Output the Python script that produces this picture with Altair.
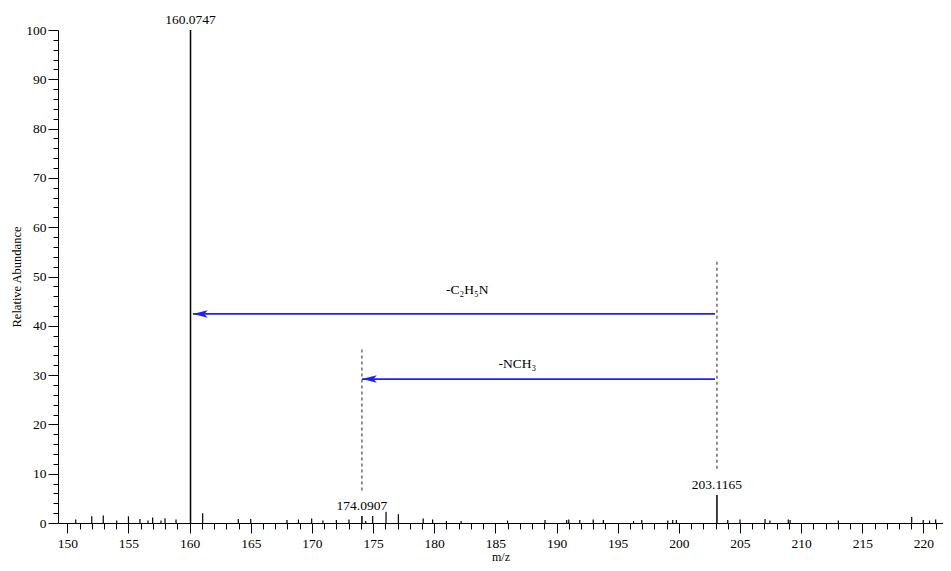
import altair as alt
import pandas as pd

# ---- data ----
peak_mz = [150.69, 152.0, 152.94, 154.04, 155.0, 155.94, 156.6, 156.98, 157.66, 157.99,
           158.89, 161.07, 163.98, 165.0, 167.96, 168.9, 169.98, 170.9, 172.0, 173.03,
           174.4, 174.97, 176.06, 177.07, 179.1, 179.87, 181.0, 182.2, 186.0, 189.06,
           190.83, 191.0, 191.9, 193.0, 193.83, 196.3, 196.97, 199.1, 199.5, 199.8,
           204.0, 205.0, 207.05, 207.45, 208.95, 209.1, 213.04, 219.04, 219.98, 220.5, 221.0]
peak_int = [0.7, 1.35, 1.5, 0.5, 1.35, 0.8, 0.5, 1.1, 0.5, 0.95,
            0.7, 2.0, 0.8, 0.8, 0.6, 0.7, 0.9, 0.5, 0.6, 0.7,
            0.4, 1.4, 2.3, 1.8, 0.9, 0.7, 0.4, 0.4, 0.5, 0.6,
            0.6, 0.7, 0.6, 0.7, 0.6, 0.4, 0.6, 0.5, 0.6, 0.6,
            0.6, 0.7, 0.8, 0.5, 0.7, 0.6, 0.5, 1.2, 0.6, 0.5, 0.7]

label_mz = [160.0747, 174.0907, 203.1165]
label_int = [100.0, 1.4, 5.7]
label_txt = ["160.0747", "174.0907", "203.1165"]

dash_mz = [203.1165, 174.0907]
dash_top = [53.0, 35.2]
dash_bottom = [10.7, 6.1]

arrow_start = [202.96, 202.96]
arrow_tip = [160.27, 174.1]
arrow_y = [42.4, 29.2]

loss_txt = ["-C\u2082H\u2085N", "-NCH\u2083"]
loss_mz = [182.7, 186.8]
loss_y = [47.3, 32.3]

x_ticks = list(range(150, 222))
y_ticks = list(range(0, 101, 2))

FONT = "Liberation Serif"

peaks = pd.DataFrame({"mz": peak_mz, "inten": peak_int})
labeled = pd.DataFrame({"mz": label_mz, "inten": label_int, "txt": label_txt})
dashes = pd.DataFrame({"mz": dash_mz, "top": dash_top, "bottom": dash_bottom})
arrows = pd.DataFrame({"start": arrow_start, "tip": arrow_tip, "y": arrow_y})
losses = pd.DataFrame({"txt": loss_txt, "mz": loss_mz, "y": loss_y})

xscale = alt.Scale(domain=[149.24, 221.6], nice=False, zero=False)
yscale = alt.Scale(domain=[0, 100], nice=False)

xaxis = alt.Axis(
    values=x_ticks, tickCount=500, title="m/z", format="d",
    labelExpr="datum.value % 5 === 0 ? datum.label : ''",
    tickSize={"condition": {"test": "datum.value % 5 === 0", "value": 10}, "value": 6},
    labelPadding=3, labelFontSize=13.5, labelFont=FONT, labelColor="black",
    titleFont=FONT, titleFontSize=12, titleFontWeight="normal", titleColor="black",
    titleY=40, titleBaseline="bottom", labelFlush=False, labelOverlap=False,
    domainColor="black", tickColor="black", grid=False,
)
yaxis = alt.Axis(
    values=y_ticks, tickCount=500, title="Relative Abundance", format="d",
    labelExpr="datum.value % 10 === 0 ? datum.label : ''",
    tickSize={"condition": {"test": "datum.value % 10 === 0", "value": 10}, "value": 5},
    labelPadding=2, labelFontSize=13.5, labelFont=FONT, labelColor="black",
    titleFont=FONT, titleFontSize=12.5, titleFontWeight="normal", titleColor="black",
    titlePadding=2, labelFlush=False, labelOverlap=False,
    domainColor="black", tickColor="black", grid=False,
)

base_peaks = alt.Chart(peaks).transform_calculate(base="0").mark_rule(
    color="black", strokeWidth=1.2
).encode(
    x=alt.X("mz:Q", scale=xscale, axis=xaxis),
    y=alt.Y("inten:Q", scale=yscale, axis=yaxis),
    y2="base:Q",
)

main_peaks = alt.Chart(labeled).transform_calculate(base="0").mark_rule(
    color="black", strokeWidth=1.5
).encode(x="mz:Q", y="inten:Q", y2="base:Q")

peak_labels = alt.Chart(labeled).mark_text(
    font=FONT, fontSize=13.5, baseline="bottom", dy=-3, color="black"
).encode(x="mz:Q", y="inten:Q", text="txt:N")

dash_lines = alt.Chart(dashes).mark_rule(
    color="#444444", strokeWidth=1.2, strokeDash=[3, 3]
).encode(x="mz:Q", y="top:Q", y2="bottom:Q")

arrow_lines = alt.Chart(arrows).mark_rule(color="#2222ee", strokeWidth=1.8).encode(
    x="start:Q", x2="tip:Q", y="y:Q"
)

arrow_heads = alt.Chart(arrows).mark_point(
    shape="M 0 0 L 1 -0.25 L 0.78 0 L 1 0.25 Z", size=864,
    filled=True, color="#2222ee", opacity=1, strokeWidth=0
).encode(x="tip:Q", y="y:Q")

loss_labels = alt.Chart(losses).mark_text(
    font=FONT, fontSize=13.5, color="black"
).encode(x="mz:Q", y="y:Q", text="txt:N")

chart = alt.layer(
    base_peaks, main_peaks, dash_lines, arrow_lines, arrow_heads, peak_labels, loss_labels
).properties(
    width=885, height=493,
    background="white",
    autosize=alt.AutoSizeParams(type="none"),
    padding={"left": 50, "top": 22, "right": 0, "bottom": 40},
).configure_view(strokeWidth=0, stroke="transparent")

chart.save("out.html", embed_options={"renderer": "svg", "actions": False})
